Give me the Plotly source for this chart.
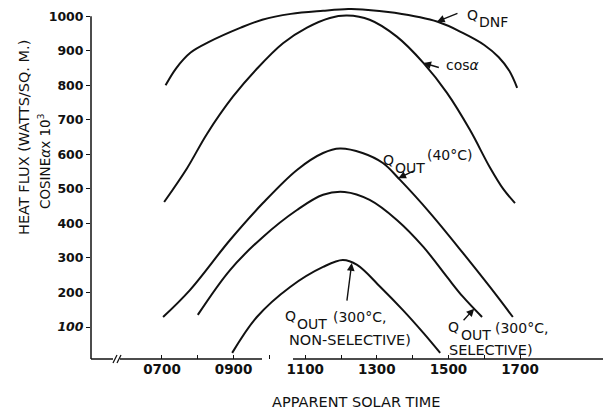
import numpy as np
import plotly.graph_objects as go

# Apparent solar time (decimal hours) and heat flux (W/m^2) for each curve
dnf_hours = [7.1, 7.4, 7.8, 8.3, 9.2, 9.8, 10.6, 11.5, 12.2, 12.6, 13.5, 14.7, 15.4, 16.0, 16.4, 16.7, 16.92]
dnf_flux = [800, 850, 895, 925, 967, 990, 1007, 1016, 1021, 1020, 1010, 984, 952, 917, 882, 842, 793]

cos_hours = [7.06, 7.7, 8.26, 8.98, 9.65, 10.38, 11.05, 11.69, 12.17, 12.8, 13.56, 14.3, 14.96, 15.6, 16.16, 16.53, 16.86]
cos_x1000 = [462, 560, 660, 767, 848, 922, 967, 995, 1002, 990, 941, 865, 778, 671, 562, 500, 459]

out40_hours = [7.03, 7.78, 8.9, 9.82, 10.77, 11.5, 11.97, 12.6, 13.17, 13.65, 14.49, 15.41, 16.16, 16.8]
out40_flux = [129, 207, 352, 459, 555, 604, 617, 604, 575, 526, 430, 314, 216, 129]

sel_hours = [8.0, 8.9, 9.82, 10.77, 11.5, 12.1, 12.8, 13.56, 14.3, 14.96, 15.41, 15.94]
sel_flux = [135, 265, 361, 439, 483, 491, 468, 410, 332, 245, 187, 129]

nonsel_hours = [8.96, 9.65, 10.58, 11.5, 12.05, 12.45, 13.1, 13.73, 14.3, 14.77]
nonsel_flux = [25, 129, 216, 274, 294, 280, 216, 149, 83, 25]

x_tick_hours = [7, 8, 9, 10, 11, 12, 13, 14, 15, 16, 17]
x_tick_labels = ["0700", "", "0900", "", "1100", "", "1300", "", "1500", "", "1700"]
y_tick_values = [100, 200, 300, 400, 500, 600, 700, 800, 900, 1000]
y_tick_labels = ["<i>100</i>", "200", "300", "400", "500", "600", "700", "800", "900", "1000"]

W, H = 603, 415
L, B = 91, 56
PW, PH = W - L, H - B
X_RANGE = [5.017, 19.318]
Y_RANGE = [7.3, 1047.2]

FONT = "DejaVu Sans"
INK = "#111111"


def paper(x, y):
    """Page pixel position -> paper coordinates of the plot area."""
    return (x - L) / PW, (PH - y) / PH


fig = go.Figure()
for hrs, vals in [(dnf_hours, dnf_flux), (cos_hours, cos_x1000), (out40_hours, out40_flux),
                  (sel_hours, sel_flux), (nonsel_hours, nonsel_flux)]:
    fig.add_trace(go.Scatter(x=hrs, y=vals, mode="lines",
                             line=dict(color=INK, width=2, shape="spline", smoothing=1.0),
                             hoverinfo="skip", showlegend=False))

annotations = []


def label(text, left, cy, size=14):
    px_, py_ = paper(left, cy)
    annotations.append(dict(text=text, x=px_, y=py_, xref="paper", yref="paper",
                            xanchor="left", yanchor="middle", showarrow=False,
                            font=dict(family=FONT, size=size, color=INK)))


def pointer(hour, hrs, vals, ax, ay):
    annotations.append(dict(text="", x=hour, y=float(np.interp(hour, hrs, vals)),
                            xref="x", yref="y", ax=ax, ay=ay, showarrow=True,
                            arrowhead=2, arrowsize=1.1, arrowwidth=1.4,
                            arrowcolor=INK, standoff=0))


# curve labels
label("Q", 465, 15)
label("DNF", 477, 22)
pointer(14.68, dnf_hours, dnf_flux, 22, -9)

label("cos<i>α</i>", 444, 65)
pointer(14.3, cos_hours, cos_x1000, 17, 5)

label("Q", 381, 160)
label("OUT", 393, 168)
label("(40°C)", 425, 155)
pointer(13.6, out40_hours, out40_flux, 17, -8)

label("Q", 283, 316)
label("OUT", 295, 324)
label("(300°C,", 331, 317)
label("NON-SELECTIVE)", 287, 340, 14.5)
pointer(12.3, nonsel_hours, nonsel_flux, -5, 39)

label("Q", 446, 327)
label("OUT", 459, 335)
label("(300°C,", 493, 328)
label("SELECTIVE)", 447, 350, 14.5)
pointer(15.72, sel_hours, sel_flux, -12, 13)

# axis titles
tx, ty = paper(356, 402)
annotations.append(dict(text="APPARENT SOLAR TIME", x=tx, y=ty, xref="paper", yref="paper",
                        xanchor="center", yanchor="middle", showarrow=False,
                        font=dict(family=FONT, size=14.5, color=INK)))
tx, ty = paper(24, 138)
annotations.append(dict(text="HEAT FLUX (WATTS/SQ. M.)", x=tx, y=ty, xref="paper", yref="paper",
                        xanchor="center", yanchor="middle", showarrow=False, textangle=-90,
                        font=dict(family=FONT, size=14.5, color=INK)))
tx, ty = paper(44, 161)
annotations.append(dict(text="COSINE<i>α</i>x 10<sup>3</sup>", x=tx, y=ty, xref="paper", yref="paper",
                        xanchor="center", yanchor="middle", showarrow=False, textangle=-90,
                        font=dict(family=FONT, size=13.5, color=INK)))

# broken axis lines
shapes = []
for x0, x1 in [(91, 113), (120, 262), (293, 603)]:
    a, _ = paper(x0, 0)
    b, _ = paper(x1, 0)
    shapes.append(dict(type="line", xref="paper", yref="paper", x0=a, x1=b, y0=0, y1=0,
                       line=dict(color=INK, width=1.5)))
for dx in (-2, 2):
    a, ya = paper(115 + dx, 363)
    b, yb = paper(119 + dx, 355)
    shapes.append(dict(type="line", xref="paper", yref="paper", x0=a, x1=b, y0=ya, y1=yb,
                       line=dict(color=INK, width=1.2)))
shapes.append(dict(type="line", xref="paper", yref="y", x0=0, x1=0, y0=Y_RANGE[0], y1=1000,
                   line=dict(color=INK, width=1.5)))

fig.update_layout(
    width=W, height=H, margin=dict(l=L, r=0, t=0, b=B),
    paper_bgcolor="white", plot_bgcolor="white",
    annotations=annotations, shapes=shapes,
    xaxis=dict(range=X_RANGE, tickvals=x_tick_hours, ticktext=x_tick_labels,
               ticks="inside", ticklen=4, tickwidth=1.3, tickcolor=INK,
               showgrid=False, zeroline=False, showline=False,
               tickfont=dict(family=FONT, size=13.5, color=INK, weight="bold")),
    yaxis=dict(range=Y_RANGE, tickvals=y_tick_values, ticktext=y_tick_labels,
               ticks="outside", ticklen=4, tickwidth=1.3, tickcolor=INK,
               showgrid=False, zeroline=False, showline=False,
               tickfont=dict(family=FONT, size=12.5, color=INK, weight="bold")),
)

fig.write_html("out.html")
